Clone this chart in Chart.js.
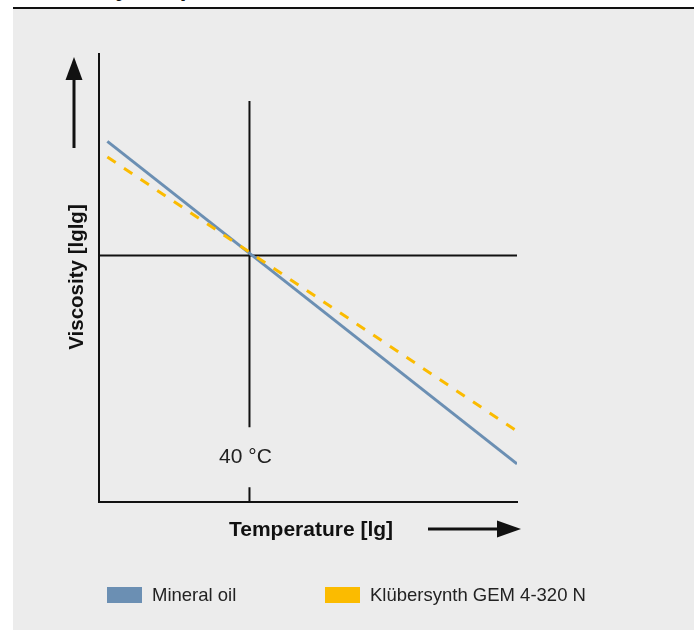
<!DOCTYPE html>
<html lang="en">
	<head>
		<meta charset="UTF-8" />
		<title>Viscosity-temperature behaviour</title>
		<script src="https://cdn.jsdelivr.net/npm/chart.js@4.4.1/dist/chart.umd.min.js"></script>
		<style>
			body { margin: 0; background: #fff; font-family: "Liberation Sans", Arial, sans-serif; }
			#page { position: relative; width: 699px; height: 630px; overflow: hidden; }
			#titleClip { position: absolute; left: 13px; top: 0; width: 681px; height: 7px; overflow: hidden; }
			#title { position: absolute; left: 11px; top: -24px; font-size: 24px; line-height: 24px; font-weight: bold; color: #111; white-space: nowrap; }
			#rule { position: absolute; left: 13px; top: 7px; width: 681px; height: 2px; background: #111; }
			#panel { position: absolute; left: 13px; top: 9px; width: 681px; height: 621px; background: #ececec; }
			#myChart { position: absolute; left: 0; top: 0; }
			.legend { position: absolute; top: 586px; font-size: 18.5px; color: #222; line-height: 18px; }
			.legend span { display: inline-block; width: 35px; height: 16px; vertical-align: top; margin-right: 10px; margin-top: 1px; }
		</style>
	</head>
	<body>
		<div id="page">
			<div id="titleClip"><div id="title">Viscosity-temperature behaviour</div></div>
			<div id="rule"></div>
			<div id="panel"></div>
			<canvas id="myChart" width="699" height="630"></canvas>
			<div class="legend" style="left: 107px"><span style="background: #6b8fb3"></span>Mineral oil</div>
			<div class="legend" style="left: 325px"><span style="background: #fbbb00"></span>Klübersynth GEM 4-320 N</div>
		</div>
		<script>
			// values, axes run 0..100 (log scale, unitless)
			var temperature = [2, 100];
			var mineralOil = [80.5, 8.5];
			var kluebersynth = [77, 15.8];
			var refTemp = 36; // 40 °C
			var refVisc = 55;
			var refTempUpper = [89.5, 16.7];
			var refTempLower = [3.3, 0];

			function pts(xs, ys) {
				return xs.map(function (x, i) {
					return { x: x, y: ys[i] };
				});
			}

			var extras = {
				id: "extras",
				afterDraw: function (chart) {
					var ctx = chart.ctx;
					var xs = chart.scales.x;
					ctx.save();
					ctx.fillStyle = "#111";
					ctx.strokeStyle = "#111";
					ctx.lineWidth = 3;

					// up arrow
					ctx.beginPath();
					ctx.moveTo(74, 148);
					ctx.lineTo(74, 78);
					ctx.stroke();
					ctx.beginPath();
					ctx.moveTo(74, 57);
					ctx.lineTo(65.5, 80);
					ctx.lineTo(82.5, 80);
					ctx.closePath();
					ctx.fill();

					// right arrow
					ctx.beginPath();
					ctx.moveTo(428, 529);
					ctx.lineTo(499, 529);
					ctx.stroke();
					ctx.beginPath();
					ctx.moveTo(521, 529);
					ctx.lineTo(497, 520.5);
					ctx.lineTo(497, 537.5);
					ctx.closePath();
					ctx.fill();

					// axis titles
					ctx.font = "bold 21px 'Liberation Sans', Arial, sans-serif";
					ctx.textAlign = "center";
					ctx.textBaseline = "middle";
					ctx.fillText("Temperature [lg]", 311, 530);
					ctx.font = "bold 20.5px 'Liberation Sans', Arial, sans-serif";
					ctx.translate(77, 277);
					ctx.rotate(-Math.PI / 2);
					ctx.fillText("Viscosity [lglg]", 0, 0);
					ctx.setTransform(1, 0, 0, 1, 0, 0);

					// 40 °C label in the gap of the reference line
					ctx.fillStyle = "#222";
					ctx.font = "21px 'Liberation Sans', Arial, sans-serif";
					ctx.fillText("40 °C", xs.getPixelForValue(refTemp) - 4, 457);
					ctx.restore();
				},
			};

			var black = { borderColor: "#111", borderWidth: 2, pointRadius: 0, showLine: true, fill: false };

			var chart = new Chart(document.getElementById("myChart"), {
				type: "scatter",
				data: {
					datasets: [
						{
							label: "Klübersynth GEM 4-320 N",
							data: pts(temperature, kluebersynth),
							borderColor: "#fbbb00",
							backgroundColor: "#fbbb00",
							borderWidth: 3,
							borderDash: [10, 10],
							pointRadius: 0,
							showLine: true,
						},
						{
							label: "Mineral oil",
							data: pts(temperature, mineralOil),
							borderColor: "#6b8fb3",
							backgroundColor: "#6b8fb3",
							borderWidth: 3,
							pointRadius: 0,
							showLine: true,
						},
						Object.assign({ label: "ref h", data: pts([0, 100], [refVisc, refVisc]) }, black),
						Object.assign({ label: "ref v1", data: pts([refTemp, refTemp], refTempUpper) }, black),
						Object.assign({ label: "ref v2", data: pts([refTemp, refTemp], refTempLower) }, black),
					],
				},
				options: {
					responsive: false,
					animation: false,
					devicePixelRatio: 1,
					layout: { padding: { left: 99, top: 54, right: 182, bottom: 128 } },
					plugins: { legend: { display: false }, tooltip: { enabled: false } },
					scales: {
						x: {
							type: "linear",
							min: 0,
							max: 100,
							grid: { display: false, drawTicks: false },
							border: { display: true, color: "#111", width: 2 },
							ticks: { display: false },
						},
						y: {
							type: "linear",
							min: 0,
							max: 100,
							grid: { display: false, drawTicks: false },
							border: { display: true, color: "#111", width: 2 },
							ticks: { display: false },
						},
					},
				},
				plugins: [extras],
			});
		</script>
	</body>
</html>
